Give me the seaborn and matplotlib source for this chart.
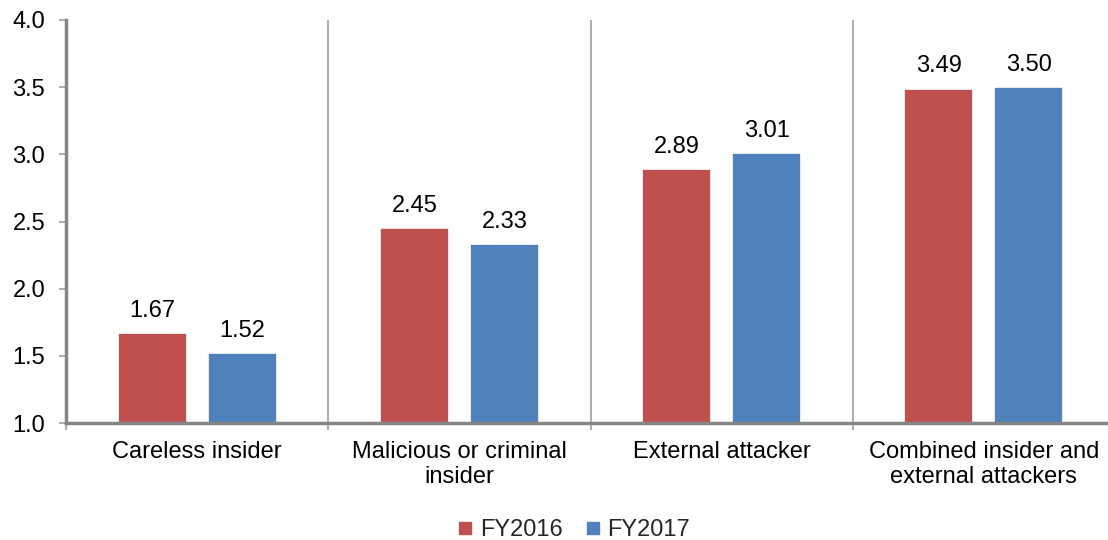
import matplotlib
matplotlib.use("Agg")
import matplotlib.pyplot as plt
from matplotlib.lines import Line2D
import seaborn as sns
import pandas as pd

categories = ["Careless insider", "Malicious or criminal\ninsider",
              "External attacker", "Combined insider and\nexternal attackers"]
fy2016 = [1.67, 2.45, 2.89, 3.49]
fy2017 = [1.52, 2.33, 3.01, 3.50]
years = ["FY2016", "FY2017"]
colors = ["#C0504D", "#4F81BD"]

df = pd.DataFrame({
    "category": categories * 2,
    "value": fy2016 + fy2017,
    "year": [years[0]] * 4 + [years[1]] * 4,
})

sns.set_theme(style="white")
plt.rcParams["font.family"] = ["Liberation Sans", "DejaVu Sans"]
FS = 17

fig = plt.figure(figsize=(11.08, 5.40), dpi=100)
ax = fig.add_axes([66 / 1108, 117 / 540, 1049 / 1108, 403 / 540])

sns.barplot(data=df, x="category", y="value", hue="year", palette=colors,
            order=categories, hue_order=years, width=0.687, gap=0.235,
            saturation=1, edgecolor="white", linewidth=1.2, legend=False,
            ax=ax)

for cont in ax.containers:
    ax.bar_label(cont, fmt="%.2f", padding=8, fontsize=FS, color="#000000")

ax.set_ylim(1.0, 4.0)
ax.set_xlim(-0.5, len(categories) - 0.5)
ax.set_yticks([1.0, 1.5, 2.0, 2.5, 3.0, 3.5, 4.0])
ax.set_yticklabels([f"{v:.1f}" for v in ax.get_yticks()])
ax.set_xlabel("")
ax.set_ylabel("")

# Category boundaries: light vertical rules plus short tick marks below the axis
bounds = [i - 0.5 for i in range(len(categories) + 1)]
ax.set_xticks(bounds, minor=True)
ax.xaxis.grid(True, which="minor", color="#A6A6A6", linewidth=1.3)
ax.xaxis.grid(False, which="major")
ax.tick_params(axis="x", which="minor", length=5, width=1.3, color="#A6A6A6",
               bottom=True)
ax.tick_params(axis="x", which="major", length=0, pad=13, labelsize=FS,
               labelcolor="#000000")
ax.tick_params(axis="y", length=5, width=1.3, color="#A6A6A6", left=True,
               pad=10, labelsize=FS, labelcolor="#000000")

for side in ["top", "right"]:
    ax.spines[side].set_visible(False)
for side in ["left", "bottom"]:
    ax.spines[side].set_color("#868686")
    ax.spines[side].set_linewidth(2.5)

handles = [Line2D([0], [0], marker="s", linestyle="none", markersize=8,
                  markerfacecolor=c, markeredgecolor=c) for c in colors]
fig.legend(handles, years, loc="center", bbox_to_anchor=(573 / 1108, 10 / 540),
           ncol=2, frameon=False, fontsize=FS, handletextpad=0.2,
           columnspacing=0.9, handlelength=0.8)

fig.savefig("out.png", dpi=100)
